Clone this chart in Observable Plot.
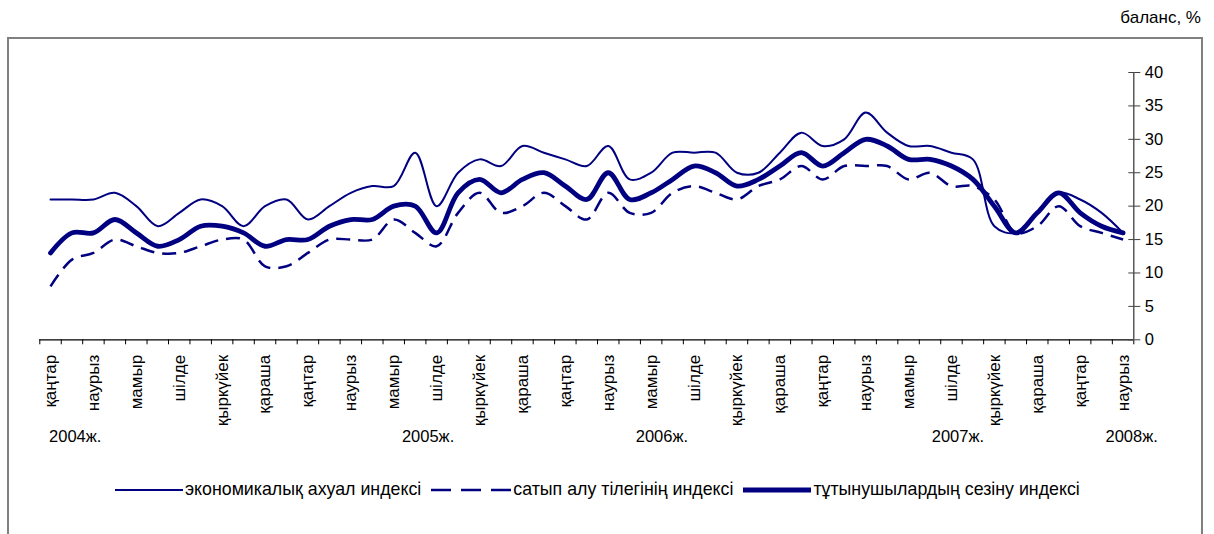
<!DOCTYPE html>
<html><head><meta charset="utf-8">
<script src="https://cdn.jsdelivr.net/npm/d3@7"></script>
<script src="https://cdn.jsdelivr.net/npm/@observablehq/plot@0.6"></script>
<style>
body{margin:0;overflow:hidden;background:#fff;font-family:"Liberation Sans",Arial,sans-serif;}
#wrap{position:relative;width:1214px;height:534px;overflow:hidden;}
#frame{position:absolute;left:7px;top:37px;width:1196px;height:560px;border:2px solid #808080;box-sizing:border-box;}
#unit{position:absolute;right:13px;top:8px;font-size:17px;color:#000;}
#chart{position:absolute;left:0;top:0;}
#legend{position:absolute;left:115px;top:479px;display:flex;align-items:center;font-size:17.8px;color:#000;white-space:nowrap;}
#legend .item{display:flex;align-items:center;margin-right:10px;}
#legend svg{display:block;margin-right:2px;}
</style>
</head><body>
<div id="wrap">
  <div id="frame"></div>
  <div id="unit">баланс, %</div>
  <div id="chart"></div>
  <div id="legend"></div>
</div>
<script>
// ---- data ----
const monthLabels = ["қаңтар","наурыз","мамыр","шілде","қыркүйек","қараша",
  "қаңтар","наурыз","мамыр","шілде","қыркүйек","қараша",
  "қаңтар","наурыз","мамыр","шілде","қыркүйек","қараша",
  "қаңтар","наурыз","мамыр","шілде","қыркүйек","қараша",
  "қаңтар","наурыз"];
const yearLabels = ["2004ж.","2005ж.","2006ж.","2007ж.","2008ж."];
const yearAt = [1.15, 17.6, 28.5, 42.3, 50.4];
const seriesNames = ["экономикалық ахуал индексі","сатып алу тілегінің индексі","тұтынушылардың сезіну индексі"];
const economic = [21,21,21,22,20,17,19,21,20,17,20,21,18,20,22,23,23,28,20,25,27,26,29,28,27,26,29,24,25,28,28,28,25,25,28,31,29,30,34,31,29,29,28,27,17,16,19,22,21,19,16];
const purchase = [8,12,13,15,14,13,13,14,15,15,11,11,13,15,15,15,18,16,14,19,22,19,20,22,20,18,22,19,19,22,23,22,21,23,24,26,24,26,26,26,24,25,23,23,21,16,17,20,17,16,15];
const consumer = [13,16,16,18,16,14,15,17,17,16,14,15,15,17,18,18,20,20,16,22,24,22,24,25,23,21,25,21,22,24,26,25,23,24,26,28,26,28,30,29,27,27,26,24,20,16,19,22,19,17,16];
const yTicks = [0,5,10,15,20,25,30,35,40];

const navy = "#000080";
const n = economic.length;
const xDomain = [-0.5, n - 0.5];
const boundaries = d3.range(n + 1).map(i => i - 0.5);
const labelIdx = d3.range(0, n, 2);
const rows = (vals) => vals.map((v, i) => ({i, v}));
const styles = [
  {strokeWidth: 2, dash: null},
  {strokeWidth: 2.5, dash: "14,8"},
  {strokeWidth: 4.8, dash: null}
];
const seriesVals = [economic, purchase, consumer];

const chart = Plot.plot({
  width: 1214, height: 460,
  marginLeft: 39.3, marginRight: 80.7, marginTop: 72, marginBottom: 120.7,
  x: {type: "linear", domain: xDomain, axis: null},
  y: {domain: [0, 40], axis: null},
  style: {fontFamily: '"Liberation Sans", Arial, sans-serif', fontSize: "16px", background: "transparent", color: "#000", overflow: "visible"},
  marks: [
    Plot.ruleY([0], {stroke: "#000", strokeWidth: 1.3}),
    Plot.ruleX([xDomain[1]], {y1: 0, y2: 40, stroke: "#404040", strokeWidth: 1.3}),
    Plot.axisX({ticks: boundaries, tickSize: 5, tickFormat: () => "", stroke: "#000", label: null}),
    Plot.axisX({ticks: labelIdx, tickSize: 0, tickPadding: 15, tickRotate: -90, tickFormat: i => monthLabels[i / 2], fontSize: 17, label: null}),
    Plot.axisY({anchor: "right", ticks: yTicks, tickSize: 6, tickPadding: 5, stroke: "#404040", fontSize: 16.5, label: null}),
    Plot.axisY({anchor: "right", ticks: yTicks, tickSize: -6, tickFormat: () => "", stroke: "#404040", label: null}),
    Plot.text(yearLabels, {x: (d, k) => yearAt[k], text: d => d, frameAnchor: "bottom", dy: 102, fontSize: 16.5, fill: "#000"}),
    ...seriesVals.map((vals, k) => Plot.line(rows(vals), {
      x: "i", y: "v", curve: "catmull-rom", stroke: navy,
      strokeWidth: styles[k].strokeWidth, strokeDasharray: styles[k].dash, strokeLinecap: k === 1 ? "butt" : "round"
    }))
  ]
});
document.getElementById("chart").appendChild(chart);

// legend
const legend = document.getElementById("legend");
const sampleW = [68, 80, 68];
seriesNames.forEach((name, k) => {
  const item = document.createElement("div");
  item.className = "item";
  const w = sampleW[k];
  const dash = k === 1 ? 'stroke-dasharray="20,10"' : "";
  item.innerHTML = `<svg width="${w}" height="10"><line x1="0" x2="${w}" y1="5" y2="5" stroke="${navy}" stroke-width="${styles[k].strokeWidth}" ${dash}/></svg><span>${name}</span>`;
  legend.appendChild(item);
});
</script>
</body></html>
